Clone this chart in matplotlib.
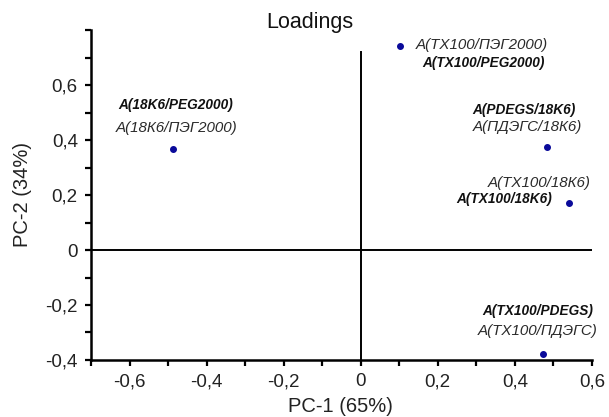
import numpy as np
import matplotlib.pyplot as plt
from matplotlib.ticker import FuncFormatter, MultipleLocator

# PCA loadings
pc1 = [-0.487, 0.101, 0.484, 0.541, 0.474]
pc2 = [0.366, 0.742, 0.373, 0.172, -0.380]
labels_en = ["A(18K6/PEG2000)", "A(TX100/PEG2000)", "A(PDEGS/18K6)",
             "A(TX100/18K6)", "A(TX100/PDEGS)"]
labels_ru = ["A(18К6/ПЭГ2000)", "A(TX100/ПЭГ2000)", "A(ПДЭГС/18К6)",
             "A(TX100/18К6)", "A(TX100/ПДЭГС)"]

# label placement (pixel offsets from the point) and alignment
off_en = [(3, 44, 'center'), (23, -17, 'left'), (-23, 37, 'center'),
          (-65, 4, 'center'), (-6, 43, 'center')]
off_ru = [(3, 21, 'center'), (16, 1, 'left'), (-20, 20, 'center'),
          (-30, 20, 'center'), (-6, 23, 'center')]

plt.rcParams['font.family'] = ['Liberation Sans', 'DejaVu Sans']

fig = plt.figure(figsize=(6.09, 4.17), dpi=100)
ax = fig.add_axes([0.1494, 0.1367, 0.8226, 0.7913])

ax.set_xlim(-0.7, 0.6)
ax.set_ylim(-0.4, 0.8)

ax.axhline(0, color='black', lw=1.4, zorder=1)
ax.axvline(0, ymin=0, ymax=(0.72 + 0.4) / 1.2, color='black', lw=1.4, zorder=1)

ax.plot(pc1, pc2, 'o', color='#0a0a9a', ms=4, zorder=3)

for x, y, en, ru, oe, orr in zip(pc1, pc2, labels_en, labels_ru, off_en, off_ru):
    ax.annotate(en, (x, y), xytext=(oe[0], oe[1]), textcoords='offset pixels',
                ha=oe[2], va='center', fontsize=9.8, fontweight='bold',
                fontstyle='italic', color='#111111')
    ax.annotate(ru, (x, y), xytext=(orr[0], orr[1]), textcoords='offset pixels',
                ha=orr[2], va='center', fontsize=10.9, fontstyle='italic',
                color='#2a2a2a')

for s in ['top', 'right']:
    ax.spines[s].set_visible(False)
for s in ['left', 'bottom']:
    ax.spines[s].set_linewidth(1.8)

ax.xaxis.set_major_locator(MultipleLocator(0.2))
ax.xaxis.set_minor_locator(MultipleLocator(0.1))
ax.yaxis.set_major_locator(MultipleLocator(0.2))
ax.yaxis.set_minor_locator(MultipleLocator(0.1))


def comma(v, pos):
    if abs(v) < 1e-9:
        return "0"
    if v > 0.65:
        return ""
    return f"{v:.1f}".replace('.', ',')


ax.xaxis.set_major_formatter(FuncFormatter(comma))
ax.yaxis.set_major_formatter(FuncFormatter(comma))
ax.tick_params(which='both', direction='out', width=1.6, length=4.5,
               labelsize=13.5, color='black', colors='#222222')
ax.tick_params(axis='x', pad=5)
ax.tick_params(axis='y', pad=5)

ax.set_xlabel("PC-1 (65%)", fontsize=14.5, color='#222222')
ax.set_ylabel("PC-2 (34%)", fontsize=14.5, color='#222222')
ax.xaxis.set_label_coords(0.497, -0.142)
ax.xaxis.label.set_va('center')
ax.yaxis.set_label_coords(-0.136, 0.503)
ax.yaxis.label.set_va('center')
fig.text(0.509, 0.945, "Loadings", ha='center', va='center', fontsize=15.5,
         color='#111111')

fig.savefig("out.png", dpi=100)
